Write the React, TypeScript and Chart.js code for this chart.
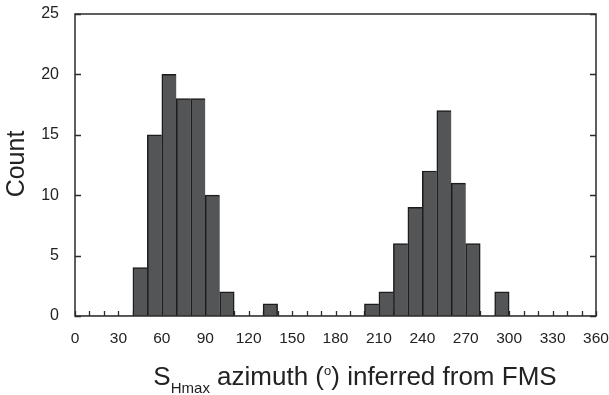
import React, { useEffect, useRef } from "react";
import { Chart, registerables } from "chart.js";

Chart.register(...registerables);

// Histogram bins (lower edge, degrees) and the count in each 10° bin
const binStart = [
  0, 10, 20, 30, 40, 50, 60, 70, 80, 90, 100, 110, 120, 130, 140, 150, 160, 170,
  180, 190, 200, 210, 220, 230, 240, 250, 260, 270, 280, 290, 300, 310, 320, 330, 340, 350,
];
const counts = [
  0, 0, 0, 0, 4, 15, 20, 18, 18, 10, 2, 0, 0, 1, 0, 0, 0, 0,
  0, 0, 1, 2, 6, 9, 12, 17, 11, 6, 0, 2, 0, 0, 0, 0, 0, 0,
];
const binWidth = 10;

const xMin = 0;
const xMax = 360;
const xLabelStep = 30;
const yMin = 0;
const yMax = 25;
const yStep = 5;

const FONT = "'Liberation Sans', Arial, sans-serif";
const INK = "#222222";
const FRAME = "#2b2b2b";
const BAR_FILL = "#545557";
const BAR_EDGE = "#1c1c1c";

const framePlugin = {
  id: "frameAndTitles",
  beforeDatasetsDraw(chart: any) {
    const { ctx, chartArea: a, scales } = chart;
    const x = scales.x;
    const y = scales.y;
    ctx.save();
    ctx.strokeStyle = FRAME;
    ctx.lineWidth = 1.3;
    ctx.beginPath();
    for (const t of x.ticks) {
      const px = Math.round(x.getPixelForValue(t.value)) + 0.5;
      ctx.moveTo(px, a.bottom);
      ctx.lineTo(px, a.bottom - 5);
    }
    for (const t of y.ticks) {
      const py = Math.round(y.getPixelForValue(t.value)) + 0.5;
      ctx.moveTo(a.left, py);
      ctx.lineTo(a.left + 6, py);
      ctx.moveTo(a.right, py);
      ctx.lineTo(a.right - 6, py);
    }
    ctx.stroke();
    ctx.restore();
  },
  afterDatasetsDraw(chart: any) {
    const { ctx, chartArea: a } = chart;
    ctx.save();
    ctx.strokeStyle = FRAME;
    ctx.lineWidth = 1.5;
    ctx.strokeRect(a.left, a.top, a.right - a.left, a.bottom - a.top);

    ctx.fillStyle = INK;

    // y-axis title
    ctx.save();
    ctx.translate(17, 164);
    ctx.rotate(-Math.PI / 2);
    ctx.font = `25px ${FONT}`;
    ctx.textAlign = "center";
    ctx.textBaseline = "middle";
    ctx.fillText("Count", 0, 0);
    ctx.restore();

    // x-axis title with subscript and superscript parts
    const big = `26px ${FONT}`;
    const small = `15px ${FONT}`;
    const tiny = `13px ${FONT}`;
    const base = 385;
    const parts: [string, string, number][] = [
      ["S", big, 0],
      ["Hmax", small, 8],
      [" azimuth (", big, 0],
      ["o", tiny, -10],
      [") inferred from FMS", big, 0],
    ];
    ctx.textAlign = "left";
    ctx.textBaseline = "alphabetic";
    let total = 0;
    for (const [s, f] of parts) {
      ctx.font = f;
      total += ctx.measureText(s).width;
    }
    let cx = 355 - total / 2;
    for (const [s, f, dy] of parts) {
      ctx.font = f;
      ctx.fillText(s, cx, base + dy);
      cx += ctx.measureText(s).width;
    }
    ctx.restore();
  },
};

export default function App() {
  const ref = useRef<HTMLCanvasElement | null>(null);

  useEffect(() => {
    if (!ref.current) return;
    const points = binStart.map((lo, i) => ({ x: lo + binWidth / 2, y: counts[i] }));
    const chart = new Chart(ref.current, {
      type: "bar",
      data: {
        datasets: [
          {
            data: points as any,
            backgroundColor: BAR_FILL,
            borderColor: BAR_EDGE,
            borderSkipped: false,
            borderWidth: (c: any) => {
              const i = c.dataIndex;
              const v = counts[i];
              if (!v) return 0;
              const next = counts[i + 1] || 0;
              return { top: 1.5, left: 1.5, right: next ? 0 : 1.5, bottom: 0 };
            },
            barPercentage: 1,
            categoryPercentage: 1,
          },
        ],
      },
      options: {
        responsive: false,
        animation: false,
        devicePixelRatio: 1,
        layout: { padding: { top: 14, right: 13, bottom: 0, left: 0 } },
        plugins: {
          legend: { display: false },
          tooltip: { enabled: false },
        },
        scales: {
          x: {
            type: "linear",
            min: xMin,
            max: xMax,
            offset: false,
            grid: { display: false },
            border: { display: false },
            ticks: {
              stepSize: binWidth,
              autoSkip: false,
              maxRotation: 0,
              padding: 5,
              color: INK,
              font: { family: FONT, size: 15.5 },
              callback: (v: any) => (Number(v) % xLabelStep === 0 ? String(v) : ""),
            },
            afterFit: (s: any) => {
              s.height = 79;
              s.paddingLeft = 0;
              s.paddingRight = 0;
            },
          },
          y: {
            min: yMin,
            max: yMax,
            grid: { display: false },
            border: { display: false },
            ticks: {
              stepSize: yStep,
              padding: 8,
              color: INK,
              font: { family: FONT, size: 16 },
            },
            afterFit: (s: any) => {
              s.width = 75;
              s.paddingTop = 0;
              s.paddingBottom = 0;
            },
          },
        },
      },
      plugins: [framePlugin],
    });
    return () => chart.destroy();
  }, []);

  return (
    <div style={{ position: "absolute", left: 0, top: 0, width: 609, height: 395, background: "#fff" }}>
      <canvas ref={ref} width={609} height={395} style={{ display: "block" }} />
    </div>
  );
}
